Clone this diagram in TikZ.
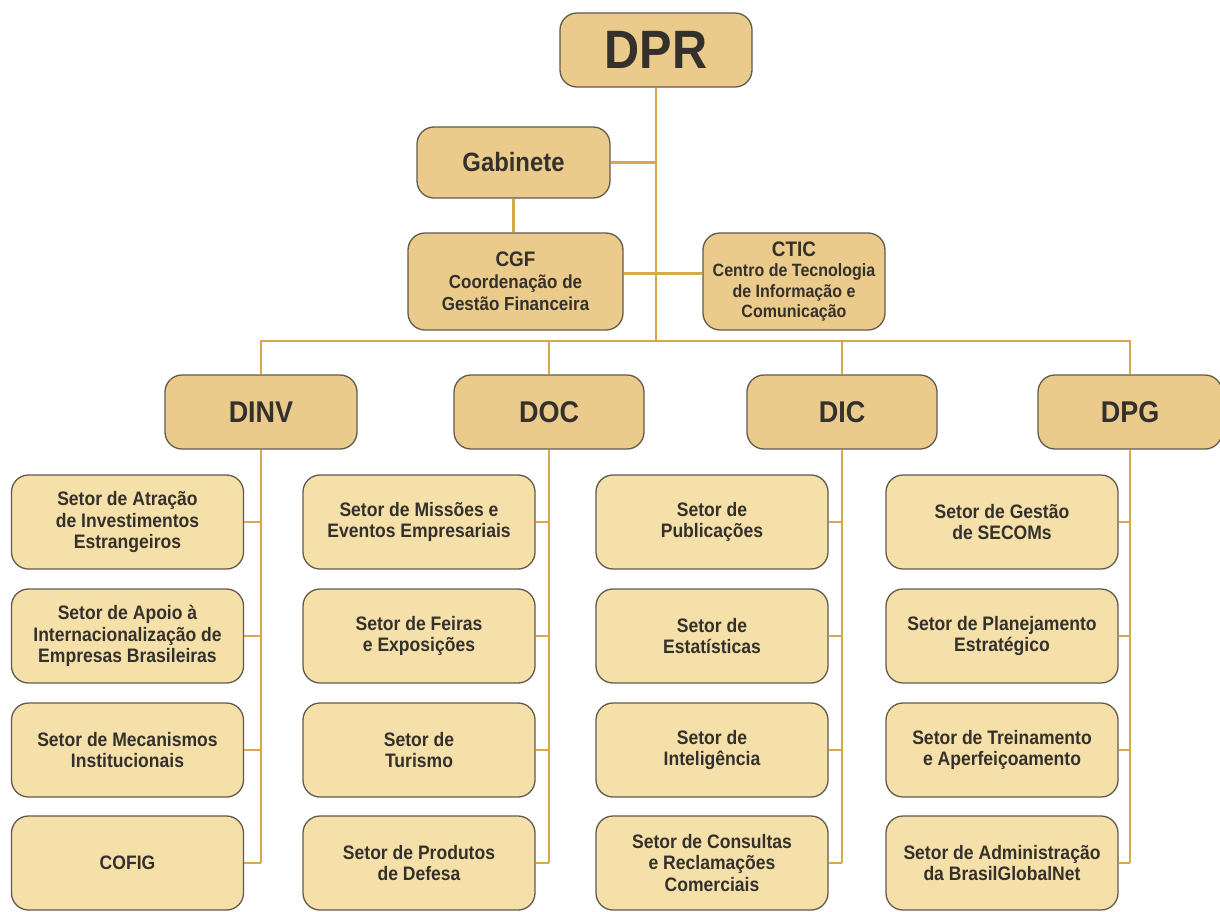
\documentclass[tikz,border=0pt]{standalone}
\usepackage{fontspec}
\setmainfont{Liberation Sans}[FakeStretch=0.9]
\definecolor{topfill}{HTML}{EACB8C}
\definecolor{subfill}{HTML}{F6E0AA}
\definecolor{boxline}{HTML}{625A4D}
\definecolor{txt}{HTML}{34302B}
\definecolor{gold}{HTML}{D8A84E}
\begin{document}
\begin{tikzpicture}[x=1pt,y=-1pt,
  box/.style={draw=boxline, line width=1.3pt, rounded corners=17pt, align=center, text=txt, inner sep=0pt},
  topbox/.style={box, fill=topfill},
  subbox/.style={box, fill=subfill, minimum width=232pt, minimum height=94pt, font=\fontsize{19.5}{21.7}\selectfont\bfseries},
  dirbox/.style={topbox, minimum height=74pt, font=\fontsize{30}{32}\selectfont\bfseries},
  link/.style={draw=gold, line width=2.6pt}]
\useasboundingbox (0,0) rectangle (1220,911);
% top level
\node[topbox, minimum width=192pt, minimum height=74pt, font=\fontsize{54}{54}\selectfont\bfseries] (dpr) at (656,50) {DPR};
\node[topbox, minimum width=193pt, minimum height=71pt, font=\fontsize{26.5}{28}\selectfont\bfseries] (gab) at (513.5,162.5) {Gabinete};
\node[topbox, minimum width=215pt, minimum height=97pt, font=\fontsize{18.9}{22}\selectfont\bfseries] (cgf) at (515.5,281.5) {{\fontsize{21}{22}\selectfont CGF}\\Coordenação de\\Gestão Financeira};
\node[topbox, minimum width=182pt, minimum height=97pt, font=\fontsize{17.8}{20.3}\selectfont\bfseries] (ctic) at (794,281.5) {{\fontsize{21}{20.3}\selectfont CTIC}\\Centro de Tecnologia\\de Informação e\\Comunicação};
\coordinate (bus) at (656,341);
% directorates
\node[dirbox, minimum width=192pt] (dinv) at (261,412) {DINV};
\node[dirbox, minimum width=190pt] (doc) at (549,412) {DOC};
\node[dirbox, minimum width=190pt] (dic) at (842,412) {DIC};
\node[dirbox, minimum width=184pt] (dpg) at (1130,412) {DPG};
% DINV children
\node[subbox] (a1) at (127.5,522) {Setor de Atração\\de Investimentos\\Estrangeiros};
\node[subbox] (a2) at (127.5,636) {Setor de Apoio à\\Internacionalização de\\Empresas Brasileiras};
\node[subbox] (a3) at (127.5,750) {Setor de Mecanismos\\Institucionais};
\node[subbox] (a4) at (127.5,863) {COFIG};
% DOC children
\node[subbox] (b1) at (419,522) {Setor de Missões e\\Eventos Empresariais};
\node[subbox] (b2) at (419,636) {Setor de Feiras\\e Exposições};
\node[subbox] (b3) at (419,750) {Setor de\\Turismo};
\node[subbox] (b4) at (419,863) {Setor de Produtos\\de Defesa};
% DIC children
\node[subbox] (c1) at (712,522) {Setor de\\Publicações};
\node[subbox] (c2) at (712,636) {Setor de\\Estatísticas};
\node[subbox] (c3) at (712,750) {Setor de\\Inteligência};
\node[subbox] (c4) at (712,863) {Setor de Consultas\\e Reclamações\\Comerciais};
% DPG children
\node[subbox] (d1) at (1002,522) {Setor de Gestão\\de SECOMs};
\node[subbox] (d2) at (1002,636) {Setor de Planejamento\\Estratégico};
\node[subbox] (d3) at (1002,750) {Setor de Treinamento\\e Aperfeiçoamento};
\node[subbox] (d4) at (1002,863) {Setor de Administração\\da BrasilGlobalNet};
% connectors
\draw[link] (dpr.south) -- (bus);
\draw[link] (gab.east) -- (gab.east -| bus);
\draw[link] (gab.south) -- (gab.south |- cgf.north);
\draw[link] ([yshift=8pt]cgf.east) -- ([yshift=8pt]ctic.west);
\draw[link] (dinv.north) -- (dinv.north |- bus) -- (dpg.north |- bus) -- (dpg.north);
\draw[link] (doc.north) -- (doc.north |- bus);
\draw[link] (dic.north) -- (dic.north |- bus);
\foreach \p/\c in {dinv/a, doc/b, dic/c, dpg/d}{
  \draw[link] (\p.south) -- (\p.south |- \c4.east);
  \foreach \i in {1,2,3,4}{
    \draw[link] (\c\i.east) -- (\c\i.east -| \p.south);
  }
}
\end{tikzpicture}
\end{document}
